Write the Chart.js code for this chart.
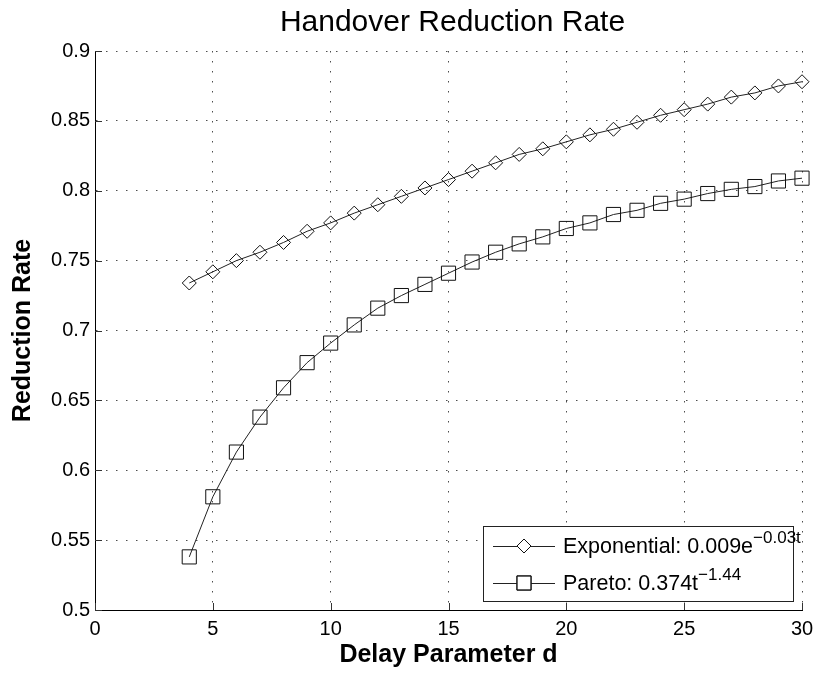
<!DOCTYPE html>
<html lang="en">
<head>
    <meta charset="UTF-8">
    <title>Handover Reduction Rate</title>
    <style>
        body {
            margin: 0;
            background-color: #fff;
        }
        #chartBox {
            width: 817px;
            height: 675px;
        }
    </style>
</head>
<body>

<div id="chartBox">
    <canvas id="chart" width="817" height="675"></canvas>
</div>

<script src="https://cdn.jsdelivr.net/npm/chart.js"></script>
<script>
    const delays = [4, 5, 6, 7, 8, 9, 10, 11, 12, 13, 14, 15, 16, 17, 18, 19, 20, 21, 22, 23, 24, 25, 26, 27, 28, 29, 30];

    const exponentialRate = [0.734, 0.742, 0.750, 0.756, 0.763, 0.771, 0.777, 0.784, 0.790, 0.796, 0.802, 0.808, 0.814,
        0.820, 0.826, 0.830, 0.835, 0.840, 0.844, 0.849, 0.854, 0.858, 0.862, 0.867, 0.870, 0.875, 0.878];

    const paretoRate = [0.538, 0.581, 0.613, 0.638, 0.659, 0.677, 0.691, 0.704, 0.716, 0.725, 0.733, 0.741, 0.749,
        0.756, 0.762, 0.767, 0.773, 0.777, 0.783, 0.786, 0.791, 0.794, 0.798, 0.801, 0.803, 0.807, 0.809];

    const xTicks = [0, 5, 10, 15, 20, 25, 30];
    const yTicks = [0.5, 0.55, 0.6, 0.65, 0.7, 0.75, 0.8, 0.85, 0.9];

    const FONT = "Arial, 'Liberation Sans', sans-serif";

    function toPoints(values) {
        return delays.map((d, i) => ({ x: d, y: values[i] }));
    }

    // title, inward ticks and the matlab-style legend box
    const decorations = {
        id: 'decorations',
        afterDraw(chart) {
            const ctx = chart.ctx;
            const area = chart.chartArea;
            const xs = chart.scales.x;
            const ys = chart.scales.y;

            ctx.save();

            // title
            ctx.fillStyle = '#000';
            ctx.font = '30px ' + FONT;
            ctx.textAlign = 'center';
            ctx.textBaseline = 'middle';
            ctx.fillText('Handover Reduction Rate', (area.left + area.right) / 2 + 4, 23);

            // ticks pointing inwards
            ctx.strokeStyle = '#333';
            ctx.lineWidth = 1;
            ctx.beginPath();
            xTicks.forEach(v => {
                const px = Math.round(xs.getPixelForValue(v)) + 0.5;
                ctx.moveTo(px, area.bottom);
                ctx.lineTo(px, area.bottom - 7);
            });
            yTicks.forEach(v => {
                const py = Math.round(ys.getPixelForValue(v)) + 0.5;
                ctx.moveTo(area.left, py);
                ctx.lineTo(area.left + 7, py);
            });
            ctx.stroke();

            // legend
            const right = area.right - 9;
            const bottom = area.bottom - 9;
            const boxW = 310;
            const boxH = 75;
            const left = right - boxW;
            const top = bottom - boxH;
            ctx.fillStyle = '#fff';
            ctx.fillRect(left, top, boxW, boxH);
            ctx.strokeStyle = '#222';
            ctx.strokeRect(left + 0.5, top + 0.5, boxW, boxH);

            const rows = [
                { y: top + 20, style: 'rectRot', r: 7, text: 'Exponential: 0.009e', sup: '\u22120.03t' },
                { y: top + 57, style: 'rect', r: 10, text: 'Pareto: 0.374t', sup: '\u22121.44' }
            ];
            rows.forEach(row => {
                ctx.strokeStyle = '#222';
                ctx.beginPath();
                ctx.moveTo(left + 10, row.y + 0.5);
                ctx.lineTo(left + 72, row.y + 0.5);
                ctx.stroke();
                ctx.fillStyle = '#fff';
                Chart.helpers.drawPoint(ctx, { pointStyle: row.style, radius: row.r, borderWidth: 1, rotation: 0 }, left + 41, row.y);
                ctx.strokeStyle = '#111';
                ctx.stroke();

                ctx.fillStyle = '#000';
                ctx.textAlign = 'left';
                ctx.textBaseline = 'middle';
                ctx.font = '21.5px ' + FONT;
                ctx.fillText(row.text, left + 80, row.y + 1);
                const w = ctx.measureText(row.text).width;
                ctx.font = '17px ' + FONT;
                ctx.fillText(row.sup, left + 80 + w, row.y - 8);
            });

            ctx.restore();
        }
    };

    const ctx = document.getElementById('chart').getContext('2d');
    new Chart(ctx, {
        type: 'line',
        data: {
            datasets: [
                {
                    label: 'Exponential: 0.009e^-0.03t',
                    data: toPoints(exponentialRate),
                    borderColor: '#222',
                    borderWidth: 1,
                    pointStyle: 'rectRot',
                    pointRadius: 7,
                    pointBorderColor: '#111',
                    pointBackgroundColor: 'rgba(0,0,0,0)',
                    pointBorderWidth: 1,
                    clip: false
                },
                {
                    label: 'Pareto: 0.374t^-1.44',
                    data: toPoints(paretoRate),
                    borderColor: '#222',
                    borderWidth: 1,
                    pointStyle: 'rect',
                    pointRadius: 10,
                    pointBorderColor: '#111',
                    pointBackgroundColor: 'rgba(0,0,0,0)',
                    pointBorderWidth: 1,
                    clip: false
                }
            ]
        },
        options: {
            responsive: false,
            animation: false,
            devicePixelRatio: 1,
            layout: { padding: { top: 51, right: 15, left: 0, bottom: 0 } },
            plugins: {
                legend: { display: false },
                tooltip: { enabled: false }
            },
            scales: {
                x: {
                    type: 'linear',
                    min: 0,
                    max: 30,
                    afterBuildTicks: scale => { scale.ticks = xTicks.map(v => ({ value: v })); },
                    afterFit: scale => {
                        scale.height = 65;
                        scale.paddingLeft = 0;
                        scale.paddingRight = 0;
                    },
                    grid: { color: 'rgba(0,0,0,0.7)', lineWidth: 1, drawTicks: false },
                    border: { display: true, color: '#000', width: 1, dash: [1.5, 8.5] },
                    ticks: { color: '#000', font: { family: FONT, size: 20 }, padding: 7, maxRotation: 0 },
                    title: {
                        display: true,
                        text: 'Delay Parameter d',
                        color: '#000',
                        font: { family: FONT, size: 25, weight: 'bold' },
                        padding: { top: 0, bottom: 5 }
                    }
                },
                y: {
                    type: 'linear',
                    min: 0.5,
                    max: 0.9,
                    afterBuildTicks: scale => { scale.ticks = yTicks.map(v => ({ value: v })); },
                    afterFit: scale => {
                        scale.width = 95;
                        scale.paddingTop = 0;
                        scale.paddingBottom = 0;
                    },
                    grid: { color: 'rgba(0,0,0,0.7)', lineWidth: 1, drawTicks: false },
                    border: { display: true, color: '#000', width: 1, dash: [1.5, 8.5] },
                    ticks: {
                        color: '#000',
                        font: { family: FONT, size: 20 },
                        padding: 5,
                        callback: v => String(Math.round(v * 100) / 100)
                    },
                    title: {
                        display: true,
                        text: 'Reduction Rate',
                        color: '#000',
                        font: { family: FONT, size: 25, weight: 'bold' },
                        padding: { top: 8, bottom: 0 }
                    }
                }
            }
        },
        plugins: [decorations]
    });
</script>
</body>
</html>
